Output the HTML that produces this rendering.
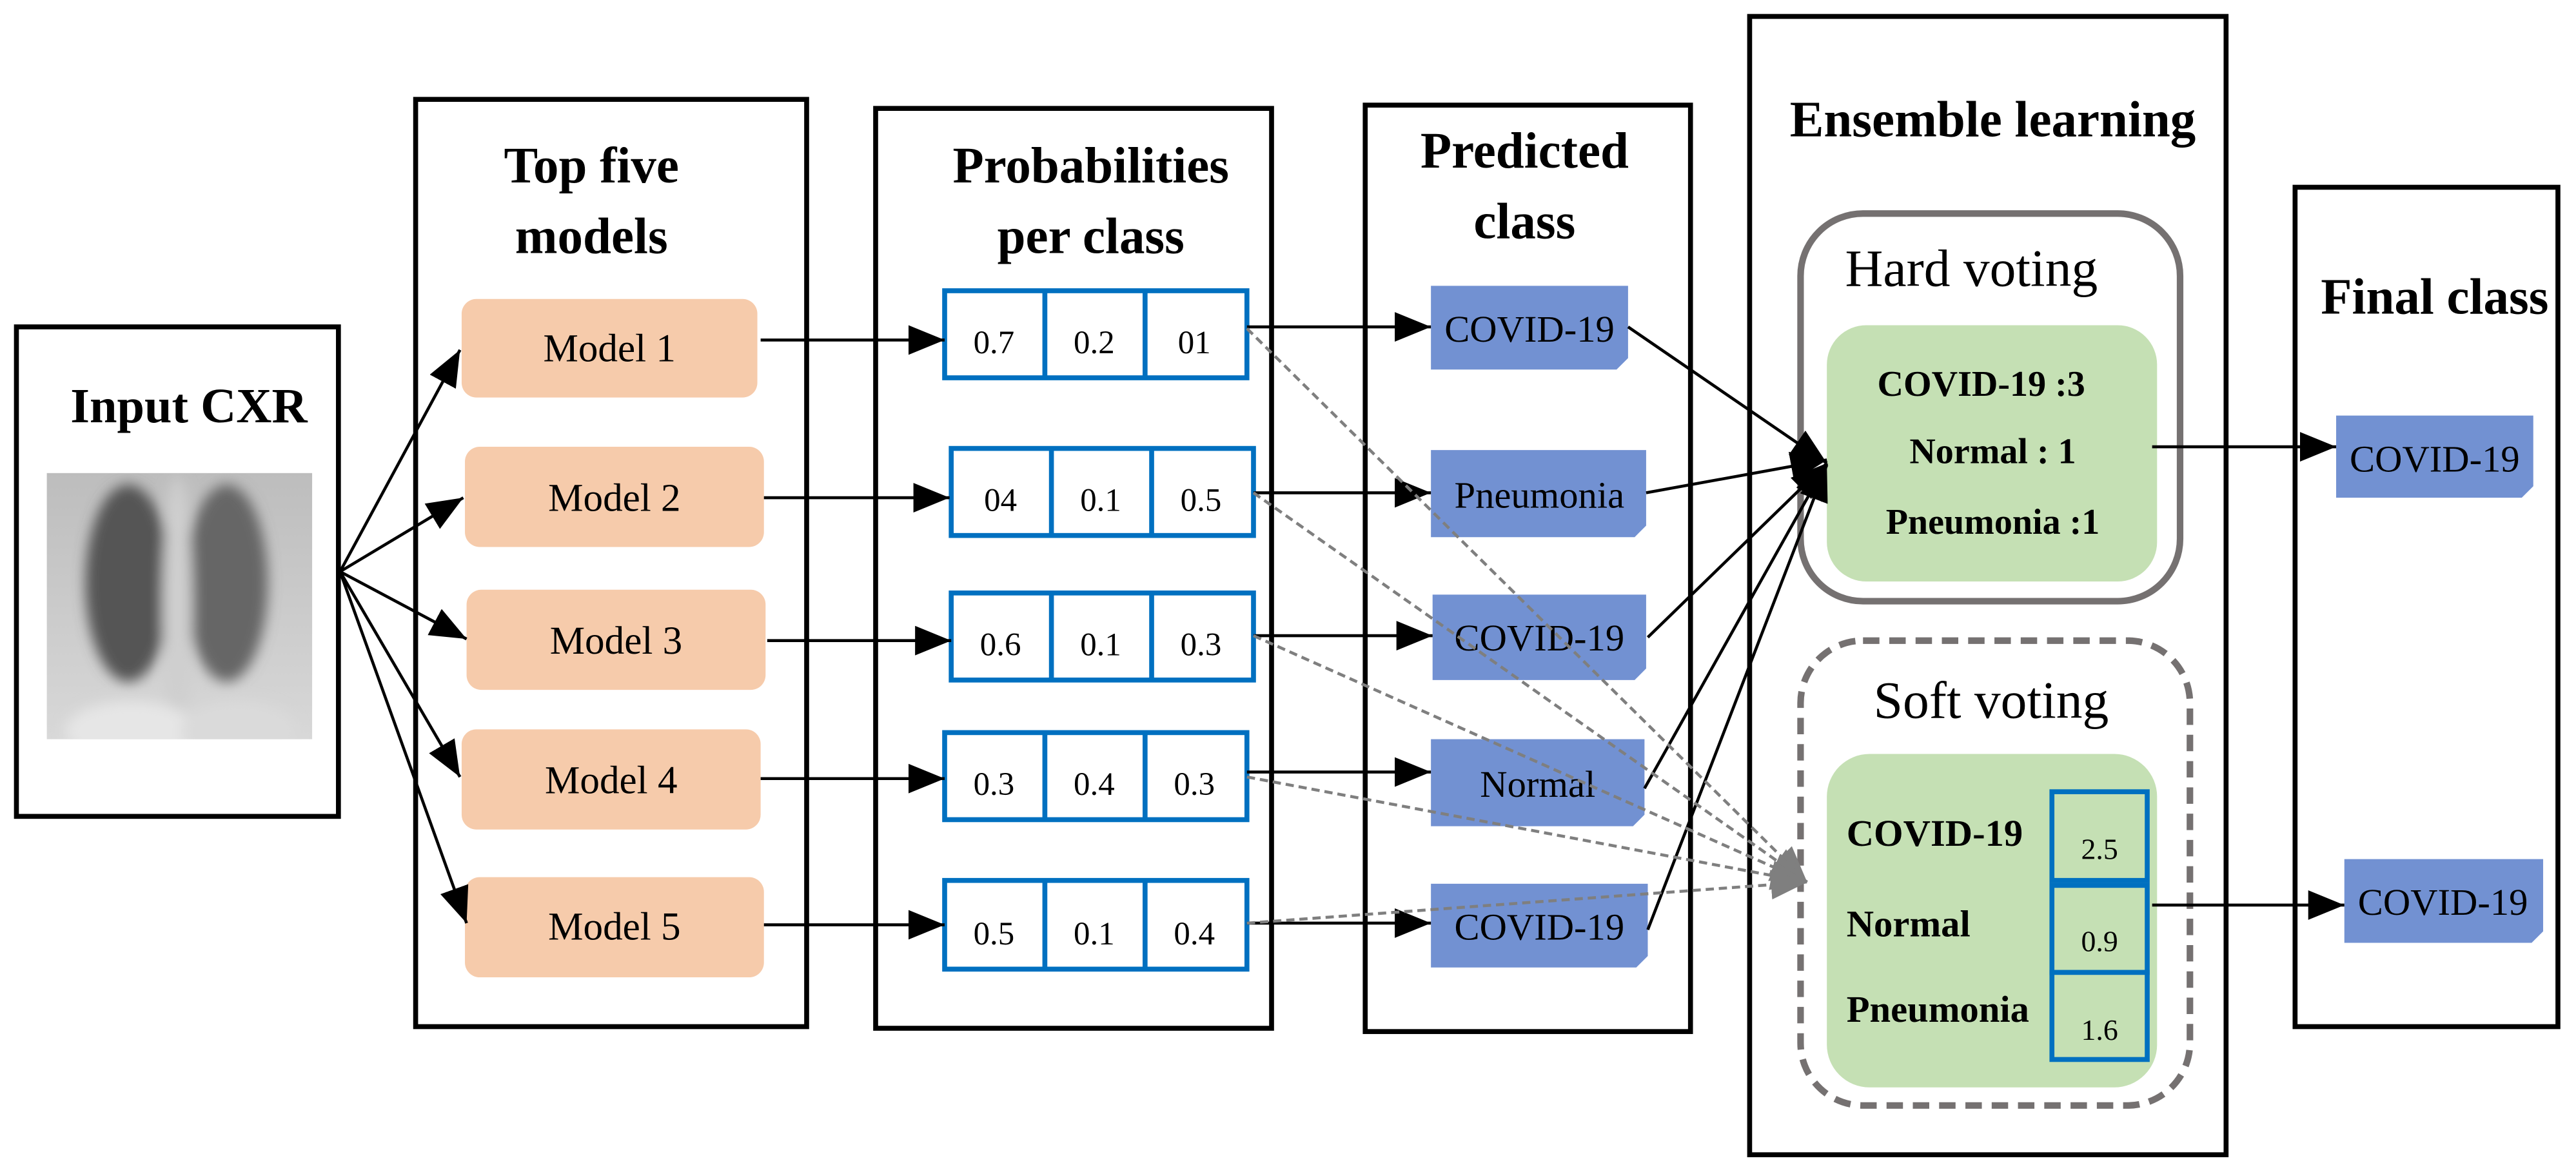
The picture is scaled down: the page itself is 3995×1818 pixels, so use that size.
<!DOCTYPE html>
<html><head><meta charset="utf-8"><style>
html,body{margin:0;padding:0;background:#fff;}
svg{display:block;}
text{font-family:"Liberation Serif",serif;}
</style></head><body>
<svg width="3995" height="1818" viewBox="0 0 1568 713.5" preserveAspectRatio="none" xmlns="http://www.w3.org/2000/svg">
<defs>
<marker id="ab" markerUnits="userSpaceOnUse" markerWidth="24" markerHeight="20" refX="22" refY="9" orient="auto"><path d="M0,0 L22,9 L0,18 z" fill="#000"/></marker>
<marker id="ag" markerUnits="userSpaceOnUse" markerWidth="24" markerHeight="20" refX="22" refY="9" orient="auto"><path d="M0,0 L22,9 L0,18 z" fill="#7f7f7f"/></marker>
<linearGradient id="xr" x1="0" y1="0" x2="0" y2="1"><stop offset="0" stop-color="#bdbdbd"/><stop offset="1" stop-color="#d8d8d8"/></linearGradient>
<filter id="bl"><feGaussianBlur stdDeviation="4"/></filter>
<clipPath id="xc"><rect x="28.5" y="288" width="161.5" height="162"/></clipPath>
</defs>
<rect width="1568" height="713.5" fill="#fff"/>

<!-- Input CXR -->
<rect x="10" y="199" width="196" height="298" fill="none" stroke="#000" stroke-width="3"/>
<text x="115" y="257" font-size="30" font-weight="bold" text-anchor="middle">Input CXR</text>
<rect x="28.5" y="288" width="161.5" height="162" fill="url(#xr)"/>
<g filter="url(#bl)" clip-path="url(#xc)">
<ellipse cx="78" cy="355" rx="26" ry="60" fill="#555"/>
<ellipse cx="138" cy="355" rx="25" ry="60" fill="#666"/>
<ellipse cx="108" cy="370" rx="9" ry="80" fill="#cfcfcf"/>
<ellipse cx="80" cy="445" rx="40" ry="18" fill="#e6e6e6"/>
<ellipse cx="145" cy="445" rx="35" ry="18" fill="#dadada"/>
</g>

<!-- Top five models -->
<rect x="253" y="60.5" width="238" height="564.5" fill="none" stroke="#000" stroke-width="3"/>
<text x="360" y="111" font-size="31" font-weight="bold" text-anchor="middle">Top five</text>
<text x="360" y="154" font-size="31" font-weight="bold" text-anchor="middle">models</text>
<g fill="#F6CBAB">
<rect x="281" y="182" width="180" height="60" rx="9"/>
<rect x="283" y="272" width="182" height="61" rx="9"/>
<rect x="284" y="359" width="182" height="61" rx="9"/>
<rect x="281" y="444" width="182" height="61" rx="9"/>
<rect x="283" y="534" width="182" height="61" rx="9"/>
</g>
<g font-size="24" text-anchor="middle" fill="#000">
<text x="371" y="220">Model 1</text>
<text x="374" y="311">Model 2</text>
<text x="375" y="398">Model 3</text>
<text x="372" y="483">Model 4</text>
<text x="374" y="572">Model 5</text>
</g>
<g stroke="#000" stroke-width="1.8" marker-end="url(#ab)">
<line x1="207" y1="348" x2="280" y2="213"/>
<line x1="207" y1="348" x2="282" y2="303"/>
<line x1="207" y1="348" x2="284" y2="389"/>
<line x1="207" y1="348" x2="280" y2="473"/>
<line x1="207" y1="348" x2="284" y2="562"/>
</g>

<!-- Probabilities -->
<rect x="533" y="66" width="241" height="560" fill="none" stroke="#000" stroke-width="3"/>
<text x="664" y="111" font-size="31" font-weight="bold" text-anchor="middle">Probabilities</text>
<text x="664" y="154" font-size="31" font-weight="bold" text-anchor="middle">per class</text>
<g fill="#fff" stroke="#0070C0" stroke-width="3">
<rect x="575" y="177" width="184" height="53"/><line x1="636" y1="177" x2="636" y2="230"/><line x1="697" y1="177" x2="697" y2="230"/>
<rect x="579" y="273" width="184" height="53"/><line x1="640" y1="273" x2="640" y2="326"/><line x1="701" y1="273" x2="701" y2="326"/>
<rect x="579" y="361" width="184" height="53"/><line x1="640" y1="361" x2="640" y2="414"/><line x1="701" y1="361" x2="701" y2="414"/>
<rect x="575" y="446" width="184" height="53"/><line x1="636" y1="446" x2="636" y2="499"/><line x1="697" y1="446" x2="697" y2="499"/>
<rect x="575" y="536" width="184" height="54"/><line x1="636" y1="536" x2="636" y2="590"/><line x1="697" y1="536" x2="697" y2="590"/>
</g>
<g font-size="20" text-anchor="middle" fill="#000">
<text x="605" y="215">0.7</text><text x="666" y="215">0.2</text><text x="727" y="215">01</text>
<text x="609" y="311">04</text><text x="670" y="311">0.1</text><text x="731" y="311">0.5</text>
<text x="609" y="399">0.6</text><text x="670" y="399">0.1</text><text x="731" y="399">0.3</text>
<text x="605" y="484">0.3</text><text x="666" y="484">0.4</text><text x="727" y="484">0.3</text>
<text x="605" y="575">0.5</text><text x="666" y="575">0.1</text><text x="727" y="575">0.4</text>
</g>
<g stroke="#000" stroke-width="1.8" marker-end="url(#ab)">
<line x1="463" y1="207" x2="575" y2="207"/>
<line x1="465" y1="303" x2="578" y2="303"/>
<line x1="467" y1="390" x2="579" y2="390"/>
<line x1="463" y1="474" x2="575" y2="474"/>
<line x1="465" y1="563" x2="575" y2="563"/>
</g>

<!-- Predicted class -->
<rect x="831" y="64" width="198" height="564" fill="none" stroke="#000" stroke-width="3"/>
<text x="928" y="102" font-size="31" font-weight="bold" text-anchor="middle">Predicted</text>
<text x="928" y="145" font-size="31" font-weight="bold" text-anchor="middle">class</text>
<g fill="#7291D2">
<path d="M871,174 H991 V218 L984,225 H871 Z"/>
<path d="M871,274 H1002 V320 L995,327 H871 Z"/>
<path d="M872,362 H1002 V407 L995,414 H872 Z"/>
<path d="M871,450 H1001 V496 L994,503 H871 Z"/>
<path d="M871,538 H1003 V582 L996,589 H871 Z"/>
</g>
<g font-size="23" text-anchor="middle" fill="#000">
<text x="931" y="208">COVID-19</text>
<text x="937" y="309">Pneumonia</text>
<text x="937" y="396">COVID-19</text>
<text x="936" y="485">Normal</text>
<text x="937" y="572">COVID-19</text>
</g>
<g stroke="#000" stroke-width="1.8" marker-end="url(#ab)">
<line x1="759" y1="199" x2="871" y2="199"/>
<line x1="763" y1="300" x2="871" y2="300"/>
<line x1="763" y1="387" x2="872" y2="387"/>
<line x1="759" y1="470" x2="871" y2="470"/>
<line x1="759" y1="562" x2="871" y2="562"/>
</g>

<!-- Ensemble learning -->
<rect x="1065" y="10" width="290" height="693" fill="none" stroke="#000" stroke-width="3"/>
<text x="1213" y="83" font-size="31" font-weight="bold" text-anchor="middle">Ensemble learning</text>
<rect x="1096" y="130" width="231" height="236" rx="38" fill="#fff" stroke="#757171" stroke-width="4"/>
<text x="1200" y="174" font-size="32" text-anchor="middle">Hard voting</text>
<rect x="1112" y="198" width="201" height="156" rx="24" fill="#C5E0B4"/>
<g font-size="22" font-weight="bold" text-anchor="middle">
<text x="1206" y="241">COVID-19 :3</text>
<text x="1213" y="282">Normal : 1</text>
<text x="1213" y="325">Pneumonia :1</text>
</g>
<rect x="1096" y="390" width="237" height="283" rx="38" fill="#fff" stroke="#757171" stroke-width="4" stroke-dasharray="10,6"/>
<text x="1212" y="437" font-size="32" text-anchor="middle">Soft voting</text>
<rect x="1112" y="459" width="201" height="203" rx="26" fill="#C5E0B4"/>
<g font-size="23" font-weight="bold">
<text x="1124" y="515">COVID-19</text>
<text x="1124" y="570">Normal</text>
<text x="1124" y="622">Pneumonia</text>
</g>
<g fill="#C5E0B4" stroke="#0070C0" stroke-width="3">
<rect x="1249" y="482" width="58" height="54"/>
<rect x="1249" y="539" width="58" height="53"/>
<rect x="1249" y="592" width="58" height="53"/>
</g>
<g font-size="18" text-anchor="middle">
<text x="1278" y="523">2.5</text><text x="1278" y="579">0.9</text><text x="1278" y="633">1.6</text>
</g>

<!-- hard voting arrows -->
<g stroke="#000" stroke-width="1.8" marker-end="url(#ab)">
<line x1="991" y1="199" x2="1112" y2="282"/>
<line x1="1002" y1="300" x2="1112" y2="280"/>
<line x1="1003" y1="388" x2="1112" y2="282"/>
<line x1="1001" y1="480" x2="1112" y2="282"/>
<line x1="1003" y1="566" x2="1112" y2="283"/>
</g>
<!-- soft voting dashed arrows -->
<g stroke="#7f7f7f" stroke-width="1.8" stroke-dasharray="5,3" marker-end="url(#ag)">
<line x1="759" y1="200" x2="1100" y2="537"/>
<line x1="763" y1="300" x2="1100" y2="537"/>
<line x1="763" y1="387" x2="1100" y2="537"/>
<line x1="759" y1="473" x2="1100" y2="537"/>
<line x1="759" y1="562" x2="1100" y2="537"/>
</g>

<!-- Final class -->
<rect x="1397" y="114" width="160" height="511" fill="none" stroke="#000" stroke-width="3"/>
<text x="1482" y="191" font-size="31" font-weight="bold" text-anchor="middle">Final class</text>
<g fill="#7291D2">
<path d="M1422,253 H1542 V296 L1535,303 H1422 Z"/>
<path d="M1427,523 H1548 V567 L1541,574 H1427 Z"/>
</g>
<g font-size="23" text-anchor="middle">
<text x="1482" y="287">COVID-19</text>
<text x="1487" y="557">COVID-19</text>
</g>
<g stroke="#000" stroke-width="1.8" marker-end="url(#ab)">
<line x1="1310" y1="272" x2="1422" y2="272"/>
<line x1="1310" y1="551" x2="1427" y2="551"/>
</g>
</svg>
</body></html>
